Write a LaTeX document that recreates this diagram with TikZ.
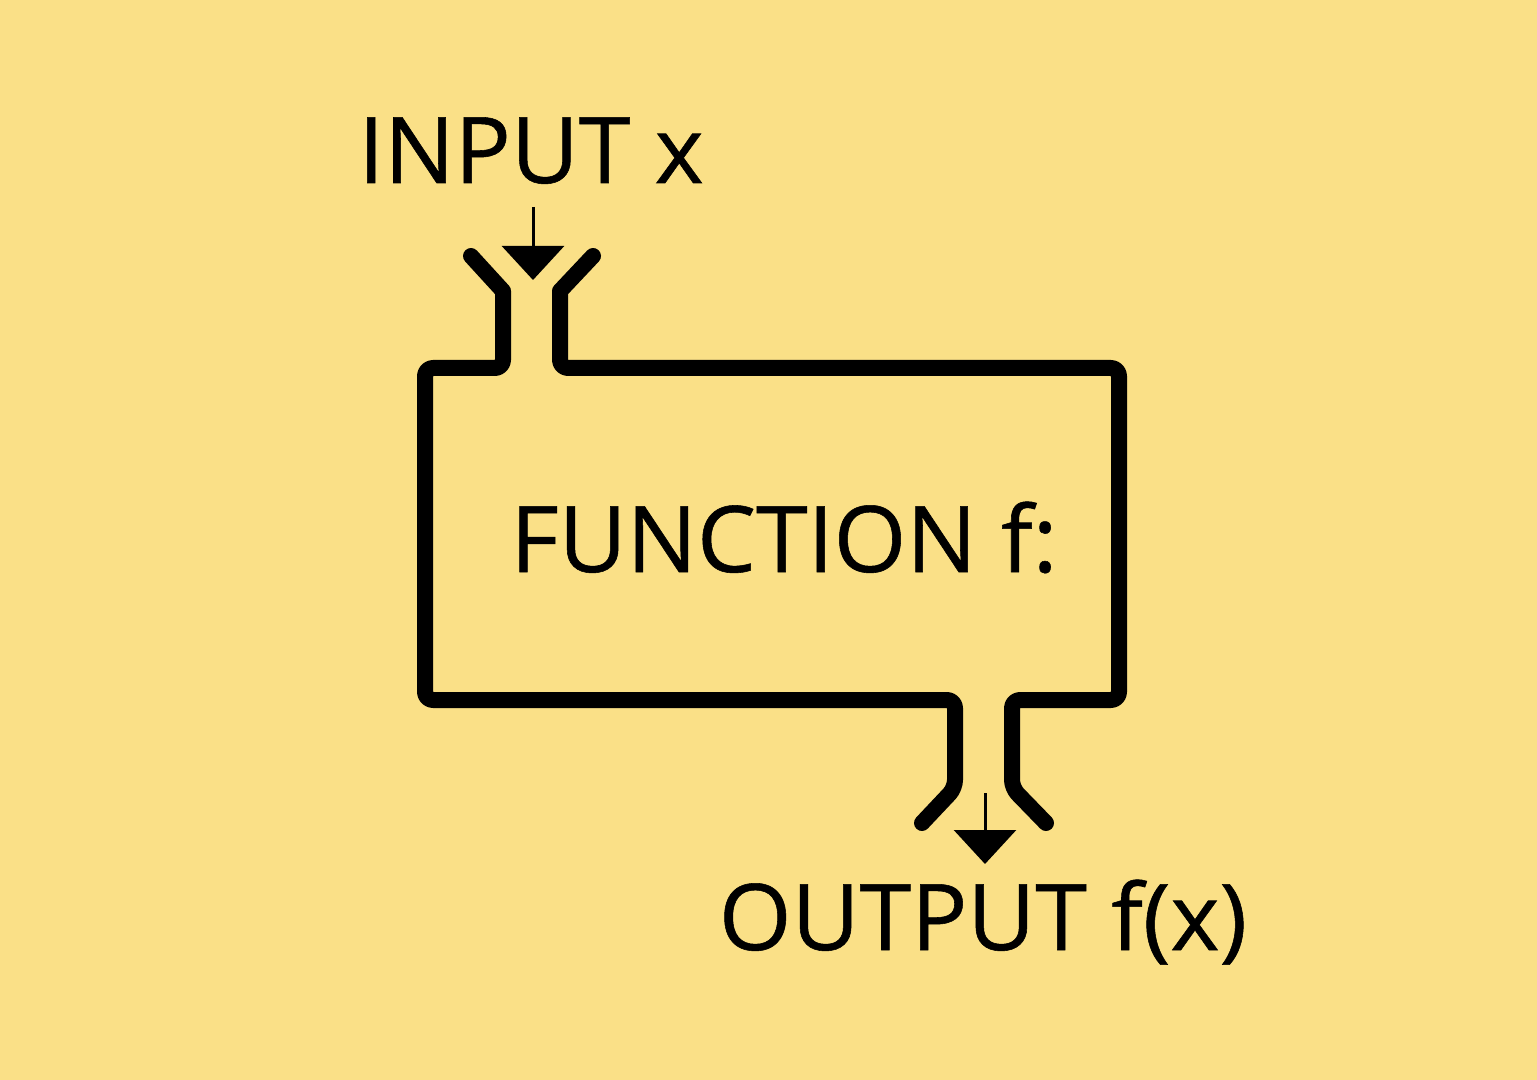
\documentclass[tikz,border=0pt]{standalone}
\usepackage{fontspec}
\setmainfont{Open Sans}[FakeStretch=1.015,FakeBold=0.6]
\usetikzlibrary{arrows.meta}
\definecolor{bgyellow}{RGB}{250,224,135}
\begin{document}
\begin{tikzpicture}[x=0.5pt,y=-0.5pt,
  wall/.style={line width=8pt,line cap=round,line join=round},
  flow/.style={line width=1.5pt,-{Triangle[width=31pt,length=17pt]}},
  label/.style={font=\fontsize{46pt}{50pt}\selectfont,inner sep=0pt,anchor=base}]
\fill[bgyellow] (0,0) rectangle (1537,1080);
\useasboundingbox (0,0) rectangle (1537,1080);
% outline of the function machine
\draw[wall] (471,256) -- (503,291) [rounded corners=4pt] -- (503,368) -- (425,368) -- (425,700) -- (955,700) -- (955,788) [sharp corners] -- (922,823);
\draw[wall] (593,256) -- (560,291) [rounded corners=4pt] -- (560,368) -- (1119,368) -- (1119,700) -- (1012,700) -- (1012,788) [sharp corners] -- (1046,823);
% labels
\node[label] (input) at (531,183) {INPUT x};
\node[label] (func) at (784,572) {FUNCTION f:};
\node[label] (output) at (983,950) {OUTPUT f(x)};
% arrows
\coordinate (inA) at (533,207);
\coordinate (inB) at (533,280);
\coordinate (outA) at (985,793);
\coordinate (outB) at (985,864);
\draw[flow] (inA) -- (inB);
\draw[flow] (outA) -- (outB);
\end{tikzpicture}
\end{document}
